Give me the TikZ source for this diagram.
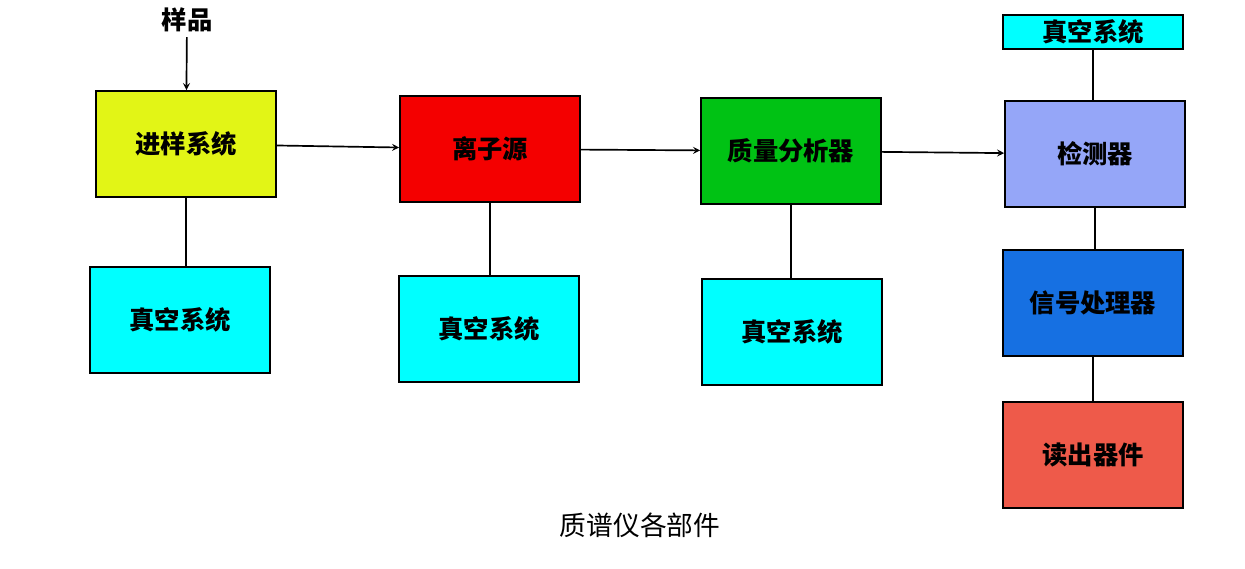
\documentclass[tikz,border=0pt]{standalone}
\usepackage{fontspec}
\newfontfamily\cjk{Noto Sans CJK SC}
\usetikzlibrary{positioning}
\definecolor{Feed}{HTML}{E2F516}
\definecolor{Vac}{HTML}{00FFFF}
\definecolor{Src}{HTML}{F40000}
\definecolor{Ana}{HTML}{00C214}
\definecolor{Det}{HTML}{95A6F8}
\definecolor{Sig}{HTML}{1670E2}
\definecolor{Read}{HTML}{EE5A4A}
\tikzset{
  % boxes of the block diagram
  part/.style={draw=black,very thick,fill=#1,minimum width=4.5cm,minimum height=2.65cm,
    font=\cjk\bfseries\fontsize{18}{20}\selectfont},
  vac/.style={part=Vac},
  link/.style={very thick},
  flow/.style={very thick,->,>=stealth},
}
\begin{document}
\begin{tikzpicture}[x=0.025cm,y=-0.025cm]
\useasboundingbox (0,0) rectangle (1245,569);
% upper row
\node[part=Feed] (feed) at (186,144) {进样系统};
\node[part=Src] (src) at (490,149) {离子源};
\node[part=Ana] (ana) at (791,151) {质量分析器};
\node[part=Det] (det) at (1095,154) {检测器};
% vacuum units
\node[vac] (v1) at (180,320) {真空系统};
\node[vac] (v2) at (489,329) {真空系统};
\node[vac] (v3) at (792,332) {真空系统};
\node[vac,minimum height=0.82cm] (v4) at (1093,32) {真空系统};
% detector chain
\node[part=Sig] (sig) at (1093,303) {信号处理器};
\node[part=Read] (read) at (1093,455) {读出器件};
\node[font=\cjk\bfseries\fontsize{18}{20}\selectfont] (smp) at (187,20) {样品};
\node[font=\cjk\fontsize{19}{21}\selectfont] (cap) at (640,525) {质谱仪各部件};

\draw[flow] (smp) -- (feed);
\draw[flow] (feed) -- (src);
\draw[flow] (src) -- (ana);
\draw[flow] (ana) -- (det);
\draw[link] (feed) -- (feed |- v1.north);
\draw[link] (src) -- (src |- v2.north);
\draw[link] (ana) -- (ana |- v3.north);
\draw[link] (v4) -- (v4 |- det.north);
\draw[link] (det) -- (det |- sig.north);
\draw[link] (sig) -- (read);
\end{tikzpicture}
\end{document}
